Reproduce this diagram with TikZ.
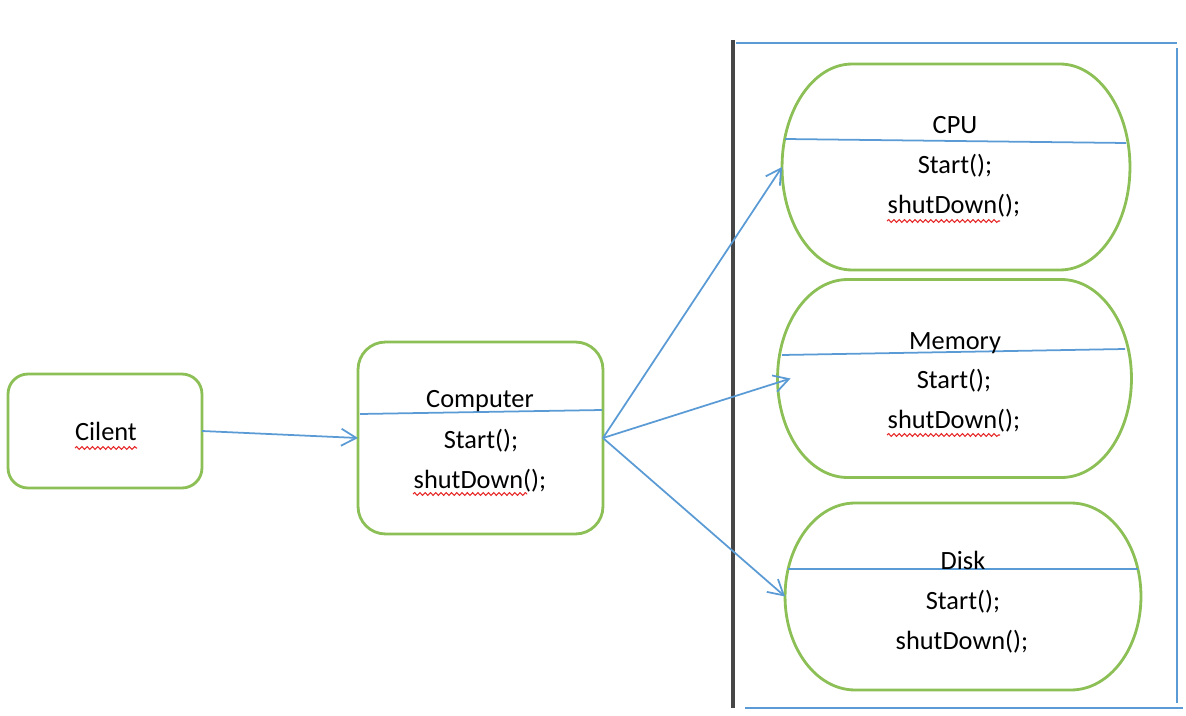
\documentclass[tikz,border=0pt]{standalone}
\usepackage{fontspec}
\setmainfont{Carlito}
\usetikzlibrary{arrows.meta,decorations.pathmorphing}
\definecolor{grn}{RGB}{140,192,86}
\definecolor{blu}{RGB}{91,155,213}
\definecolor{frm}{RGB}{70,70,70}
\definecolor{wavy}{RGB}{230,40,40}
\newcommand\stadium[3]{\draw[shp] ([xshift=#2]#1.north west) -- ([xshift=-#2]#1.north east)
  arc[start angle=90,end angle=-90,x radius=#2,y radius=#3] -- ([xshift=#2]#1.south west)
  arc[start angle=270,end angle=90,x radius=#2,y radius=#3] -- cycle;}
\begin{document}
\begin{tikzpicture}[x=0.02cm,y=-0.02cm,
  rbox/.style={draw=grn,line width=1.6pt,inner sep=0pt,outer sep=0pt},
  hold/.style={inner sep=0pt,outer sep=0pt},
  shp/.style={draw=grn,line width=1.6pt},
  divl/.style={draw=blu,line width=1pt},
  conn/.style={draw=blu,line width=1pt,-{Straight Barb[length=3mm,width=3.4mm]}},
  lbl/.style={font=\fontsize{15}{18}\selectfont,inner sep=0pt,anchor=base},
  wav/.style={draw=wavy,line width=0.6pt,decorate,decoration={snake,amplitude=0.8pt,segment length=3pt}}]
\useasboundingbox (0,0) rectangle (1186,716);
% frame
\draw[frm,line width=1.8pt] (733,40) -- (733,708);
\draw[blu,line width=1pt] (736,43) -- (1177,43);
\draw[blu,line width=1pt] (1177,48) -- (1177,703);
\draw[blu,line width=1pt] (745,708) -- (1183,708);
% client
\node[rbox,rounded corners=0.4cm,minimum width=3.88cm,minimum height=2.28cm] (client) at (105,431) {};
\node[lbl] (tcl) at (106,440) {Cilent};
\draw[wav] (75,448) -- (137,448);
% computer
\node[rbox,rounded corners=0.55cm,minimum width=4.9cm,minimum height=3.84cm] (computer) at (480.5,438) {};
\draw[divl] (360,414) -- (602,410);
\node[lbl] (tc1) at (480,407) {Computer};
\node[lbl] (tc2) at (481,448) {Start();};
\node[lbl] (tc3) at (480,488) {shutDown();};
\draw[wav] (413,494) -- (527,494);
% cpu
\node[hold,minimum width=6.96cm,minimum height=4.12cm] (cpu) at (956,167) {};
\stadium{cpu}{1.4cm}{2.06cm}
\draw[divl] (785,139) -- (1126,143);
\node[lbl] (tp1) at (955,134) {CPU};
\node[lbl] (tp2) at (955,174) {Start();};
\node[lbl] (tp3) at (954,214) {shutDown();};
\draw[wav] (887,221) -- (1000,221);
% memory
\node[hold,minimum width=7.08cm,minimum height=3.96cm] (memory) at (954.5,378.5) {};
\stadium{memory}{1.4cm}{1.98cm}
\draw[divl] (782,355) -- (1125,349);
\node[lbl] (tm1) at (955,349) {Memory};
\node[lbl] (tm2) at (954,388) {Start();};
\node[lbl] (tm3) at (954,428) {shutDown();};
\draw[wav] (887,435) -- (1000,435);
% disk
\node[hold,minimum width=7.12cm,minimum height=3.74cm] (disk) at (963,596.5) {};
\stadium{disk}{1.4cm}{1.87cm}
\draw[divl] (788,569) -- (1138,569);
\node[lbl] (td1) at (963,569) {Disk};
\node[lbl] (td2) at (963,609) {Start();};
\node[lbl] (td3) at (962,649) {shutDown();};
% connectors
\draw[conn] (client.east) -- (computer.west);
\draw[conn] (computer.east) -- (cpu.west);
\draw[conn] (computer.east) -- ([xshift=0.26cm]memory.west);
\draw[conn] (computer.east) -- (disk.west);
\end{tikzpicture}
\end{document}
